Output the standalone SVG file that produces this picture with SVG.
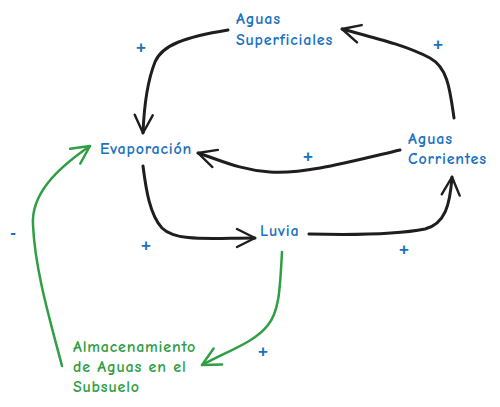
<svg xmlns="http://www.w3.org/2000/svg" width="500" height="407" viewBox="0 0 500 407">
<defs>
<marker id="ab" viewBox="0 0 22 22" refX="20" refY="11" markerWidth="22" markerHeight="22" markerUnits="userSpaceOnUse" orient="auto"><path d="M2,2 L20,11 L2,20" fill="none" stroke="#1e1e1e" stroke-width="2.4" stroke-linecap="round" stroke-linejoin="round"/></marker>
<marker id="ag" viewBox="0 0 22 22" refX="20" refY="11" markerWidth="22" markerHeight="22" markerUnits="userSpaceOnUse" orient="auto"><path d="M2,2 L20,11 L2,20" fill="none" stroke="#2f9e44" stroke-width="2.4" stroke-linecap="round" stroke-linejoin="round"/></marker>
</defs>
<style>
.t{font-family:"Comic Neue","Lato","Liberation Sans",sans-serif;font-size:16px;letter-spacing:0.8px;font-weight:bold;fill:#1971c2}
.g{fill:#2f9e44}
.s{font-family:"Liberation Sans",sans-serif;font-size:17px;font-weight:bold;fill:#1971c2}
.c{fill:none;stroke:#1e1e1e;stroke-width:3;stroke-linecap:round}
.cg{fill:none;stroke:#2f9e44;stroke-width:2.5;stroke-linecap:round}
</style>
<rect width="500" height="407" fill="#fff"/>
<g id="connectors">
<path class="c" marker-end="url(#ab)" d="M228,30 C185,37 162,45 155,62 C147,82 144,108 143,133"/>
<path class="c" marker-end="url(#ab)" d="M454,118 C450,90 448,68 430,58 C405,45 375,38 342,29"/>
<path class="c" marker-end="url(#ab)" d="M400,150 C345,163 305,174 270,172 C240,170 220,160 198,153"/>
<path class="c" marker-end="url(#ab)" d="M143,166 C146,190 150,215 162,228 C176,242 210,238 255,238"/>
<path class="c" stroke-width="2.5" marker-end="url(#ab)" d="M309,234 C350,235 400,234 425,229 C445,224 450,205 452,177"/>
<path class="cg" marker-end="url(#ag)" d="M282,252 C280,285 280,310 268,325 C255,342 230,350 202,365"/>
<path class="cg" marker-end="url(#ag)" d="M62,366 C50,320 35,270 33,225 C31,195 55,170 90,146"/>
</g>
<g id="aguas-superficiales"><text class="t" x="236" y="24">Aguas</text><text class="t" x="236" y="45">Superficiales</text></g>
<g id="evaporacion"><text class="t" x="100" y="154">Evaporación</text></g>
<g id="aguas-corrientes"><text class="t" x="408" y="144">Aguas</text><text class="t" x="408" y="164">Corrientes</text></g>
<g id="luvia"><text class="t" x="260" y="236">Luvia</text></g>
<g id="almacenamiento"><text class="t g" x="73" y="352">Almacenamiento</text><text class="t g" x="73" y="372">de Aguas en el</text><text class="t g" x="73" y="392">Subsuelo</text></g>
<g id="signs">
<text class="s" x="141" y="53" text-anchor="middle">+</text>
<text class="s" x="438" y="50" text-anchor="middle">+</text>
<text class="s" x="308" y="162" text-anchor="middle">+</text>
<text class="s" x="146" y="251" text-anchor="middle">+</text>
<text class="s" x="404" y="255" text-anchor="middle">+</text>
<text class="s" x="263" y="357" text-anchor="middle">+</text>
<text class="s" x="13" y="238" text-anchor="middle">-</text>
</g>
</svg>
